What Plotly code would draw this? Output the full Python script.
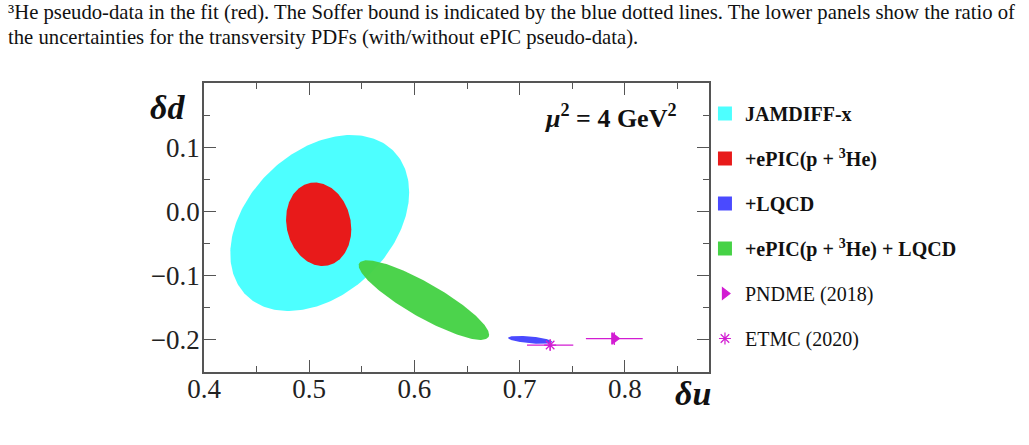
import numpy as np
import plotly.graph_objects as go

# ---------------- data ----------------
ellipse_names = ["JAMDIFF-x", "+ePIC(p + <sup>3</sup>He)", "+LQCD",
                 "+ePIC(p + <sup>3</sup>He) + LQCD"]
ellipse_colors = ["#4dffff", "#e81a1a", "#4a4aff", "#46d246"]
center_u = [0.510, 0.509, 0.710, 0.609]
center_d = [-0.018, -0.020, -0.200, -0.138]
sigma_u = [0.085, 0.031, 0.021, 0.062]
sigma_d = [0.137, 0.065, 0.0062, 0.062]
corr_ud = [0.35, -0.12, -0.5, -0.87]

lattice_names = ["PNDME (2018)", "ETMC (2020)"]
lattice_u = [0.790, 0.729]
lattice_u_err = [0.027, 0.022]
lattice_d = [-0.198, -0.208]
lattice_d_err = [0.010, 0.008]
lattice_symbols = ["triangle-right", "asterisk-open"]
lattice_color = "#d21cd2"

x_ticks = [0.4, 0.5, 0.6, 0.7, 0.8]
y_ticks = [-0.2, -0.1, 0.0, 0.1]
x_range = [0.4, 0.88]
y_range = [-0.25, 0.2]

caption_lines = [
    "³He pseudo-data in the fit (red). The Soffer bound is indicated by the blue dotted lines. The lower panels show the ratio of",
    "the uncertainties for the transversity PDFs (with/without ePIC pseudo-data).",
]

SERIF = "Liberation Serif, DejaVu Serif, serif"
AX = "#555555"
W, H = 1029, 445
ML, MR, MT, MB = 204, 320, 83, 73
pw, ph = W - ML - MR, H - MT - MB

fig = go.Figure()
t = np.linspace(0, 2 * np.pi, 240)
for i, name in enumerate(ellipse_names):
    xs = center_u[i] + sigma_u[i] * np.cos(t)
    ys = center_d[i] + sigma_d[i] * (corr_ud[i] * np.cos(t)
                                     + np.sqrt(1 - corr_ud[i] ** 2) * np.sin(t))
    fig.add_trace(go.Scatter(
        x=xs, y=ys, mode="lines", fill="toself", fillcolor=ellipse_colors[i],
        line=dict(width=0, color=ellipse_colors[i]), opacity=0.97 if i == 3 else 1,
        hoverinfo="skip", showlegend=False, legendgroup=f"g{i}"))
    # legend proxy (square swatch)
    fig.add_trace(go.Scatter(
        x=[None], y=[None], mode="markers", name=f"<b>{name}</b>",
        marker=dict(symbol="square", size=14, color=ellipse_colors[i]),
        legendgroup=f"g{i}", showlegend=True))

for j, name in enumerate(lattice_names):
    fig.add_trace(go.Scatter(
        x=[lattice_u[j]], y=[lattice_d[j]], mode="markers", name=name,
        marker=dict(symbol=lattice_symbols[j], size=10, color=lattice_color,
                    line=dict(color=lattice_color, width=1.2)),
        error_x=dict(type="data", array=[lattice_u_err[j]], color=lattice_color,
                     thickness=1.2, width=0),
        error_y=dict(type="data", array=[lattice_d_err[j]], color=lattice_color,
                     thickness=1.2, width=0),
        legendgroup=f"l{j}"))

axis_common = dict(showline=True, linecolor=AX, linewidth=1.5, mirror="allticks",
                   ticks="inside", ticklen=12, tickwidth=1.3, tickcolor=AX,
                   showgrid=False, zeroline=False,
                   tickfont=dict(family=SERIF, size=27, color="#222222"))
minor_common = dict(dtick=0.05, tick0=0.0, ticklen=6, tickcolor=AX, ticks="inside",
                    tickwidth=1.2)
fig.update_xaxes(range=x_range, tickmode="array", tickvals=x_ticks, tickformat=".1f",
                 minor=minor_common, ticklabelstandoff=-8, **axis_common)
fig.update_yaxes(range=y_range, tickmode="array", tickvals=y_ticks, tickformat=".1f",
                 minor=minor_common, ticklabelstandoff=-3, **axis_common)

annotations = [
    dict(text="<b><i>δd</i></b>", x=-0.072, y=0.915, xref="paper", yref="paper",
         showarrow=False, font=dict(family=SERIF, size=34, color="#111111"),
         xanchor="center", yanchor="middle"),
    dict(text="<b><i>δu</i></b>", x=0.968, y=-0.075, xref="paper", yref="paper",
         showarrow=False, font=dict(family=SERIF, size=34, color="#111111"),
         xanchor="center", yanchor="middle"),
    dict(text="<b><i>μ</i><sup>2</sup> = 4 GeV<sup>2</sup></b>", x=(679 - ML) / pw,
         y=1 - (116 - MT) / ph, xref="paper", yref="paper", showarrow=False,
         font=dict(family=SERIF, size=26, color="#111111"),
         xanchor="right", yanchor="middle"),
]
for k, line in enumerate(caption_lines):
    annotations.append(dict(
        text=line, x=(6 - ML) / pw, y=1 + (MT - (12 + 25 * k)) / ph,
        xref="paper", yref="paper", showarrow=False, xanchor="left", yanchor="middle",
        font=dict(family=SERIF, size=20.7, color="#111111")))

fig.update_layout(
    width=W, height=H, margin=dict(l=ML, r=MR, t=MT, b=MB),
    paper_bgcolor="white", plot_bgcolor="white",
    annotations=annotations,
    legend=dict(x=0.992, y=1 - (94 - MT) / ph, xanchor="left", yanchor="top",
                bgcolor="rgba(0,0,0,0)", tracegroupgap=16,
                font=dict(family=SERIF, size=20, color="#111111")),
)
fig.write_html("out.html")
